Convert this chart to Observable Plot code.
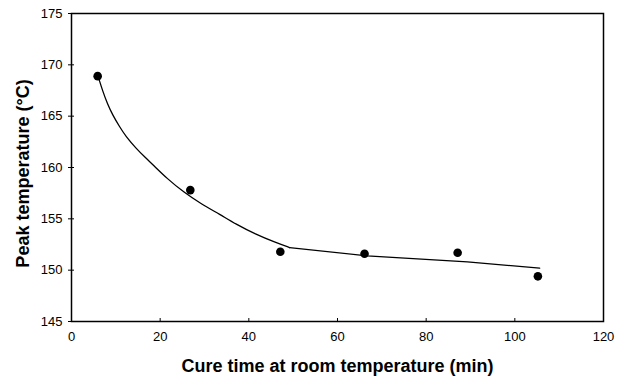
<!DOCTYPE html>
<html><head><meta charset="utf-8">
<script src="https://cdn.jsdelivr.net/npm/d3@7"></script>
<script src="https://cdn.jsdelivr.net/npm/@observablehq/plot@0.6"></script>
<style>
body{margin:0;background:#fff;}
svg{font-family:"Liberation Sans",Arial,sans-serif;}
</style>
</head><body><div id="chart"></div>
<script>
const cureTime = [5.9, 26.8, 47.1, 66.1, 87.1, 105.2];
const peakTemp = [168.9, 157.8, 151.8, 151.6, 151.7, 149.4];
const fitTime = [6.2, 7.0, 8.1, 9.3, 10.8, 12.3, 14.5, 16.8, 18.3, 21.6, 25.3, 29.1, 33.6, 37.0, 41.5, 46.0, 49.2, 66.7, 89.3, 105.6];
const fitTemp = [168.6, 167.5, 166.2, 165.1, 164.0, 163.0, 161.9, 160.9, 160.3, 158.9, 157.6, 156.5, 155.4, 154.5, 153.5, 152.7, 152.2, 151.4, 150.8, 150.2];
const xTicks = [0, 20, 40, 60, 80, 100, 120];
const yTicks = [145, 150, 155, 160, 165, 170, 175];
const xTitle = "Cure time at room temperature (min)";
const yTitle = "Peak temperature (°C)";

const pts = cureTime.map((x, i) => ({x, y: peakTemp[i]}));
const fit = fitTime.map((x, i) => ({x, y: fitTemp[i]}));
const kink = 49.2;

const chart = Plot.plot({
  width: 619, height: 379,
  marginLeft: 71, marginTop: 13, marginRight: 16, marginBottom: 58,
  style: {fontSize: "13px", color: "#000", background: "#fff"},
  x: {domain: [0, 120]},
  y: {domain: [145, 175]},
  marks: [
    Plot.frame({stroke: "#000", strokeWidth: 1.5}),
    Plot.axisX({ticks: xTicks, tickSize: -3, tickPadding: 13, label: null}),
    Plot.axisY({ticks: yTicks, tickSize: 3, tickPadding: 6, label: null}),
    Plot.axisY({ticks: yTicks, tickSize: -3, text: null, label: null}),
    Plot.text([xTitle], {frameAnchor: "bottom", dy: 45, text: d => d, fontSize: 18, fontWeight: "bold", textAnchor: "middle", lineAnchor: "middle", fill: "#000"}),
    Plot.text([yTitle], {frameAnchor: "left", dx: -48, dy: 6, rotate: -90, text: d => d, fontSize: 18, fontWeight: "bold", textAnchor: "middle", lineAnchor: "middle", fill: "#000"}),
    Plot.line(fit.filter(d => d.x <= kink), {x: "x", y: "y", stroke: "#000", strokeWidth: 1.3, curve: "basis"}),
    Plot.line(fit.filter(d => d.x >= kink), {x: "x", y: "y", stroke: "#000", strokeWidth: 1.3}),
    Plot.dot(pts, {x: "x", y: "y", r: 4.3, fill: "#000", stroke: "none"})
  ]
});
document.getElementById("chart").appendChild(chart);
</script>
</body></html>
